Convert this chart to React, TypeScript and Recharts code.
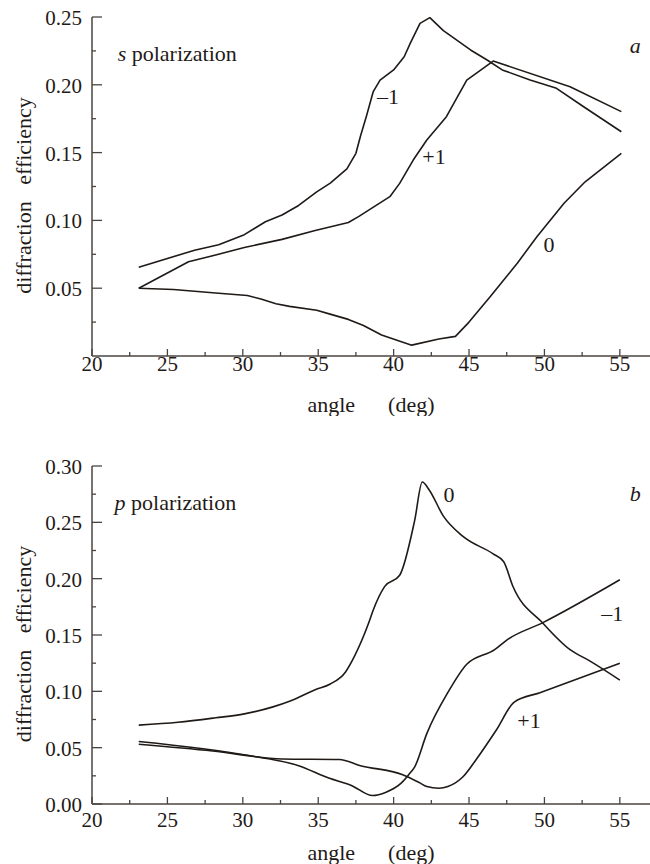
import React from "react";
import { Label, Line, LineChart, ReferenceDot, XAxis, YAxis } from "recharts";

const INK = "#1f1a17";
const AXIS = "#4a4440";
const FONT = "'Liberation Serif', 'DejaVu Serif', serif";

// panel a: s polarization
const sAngleMinus1 = [23.1, 26.8, 28.4, 30.1, 31.5, 32.6, 33.7, 34.9, 35.8, 36.9, 37.5, 37.8, 38.2, 38.65, 39.1, 40.0, 40.7, 41.1, 41.75, 42.4, 43.3, 45.1, 46.2, 47.2, 49.05, 50.8, 52.6, 55.1];
const sEffMinus1 = [0.0655, 0.078, 0.082, 0.0895, 0.099, 0.104, 0.111, 0.121, 0.1275, 0.138, 0.1495, 0.162, 0.177, 0.195, 0.2035, 0.211, 0.2207, 0.2306, 0.2453, 0.2495, 0.24, 0.2257, 0.2183, 0.211, 0.2035, 0.1974, 0.1838, 0.1654];
const sAnglePlus1 = [23.1, 26.4, 28.2, 30.1, 32.6, 34.8, 37.0, 37.7, 38.4, 39.75, 40.4, 41.3, 42.2, 43.5, 44.85, 46.6, 51.7, 55.1];
const sEffPlus1 = [0.05, 0.0695, 0.0745, 0.08, 0.086, 0.0925, 0.0985, 0.103, 0.108, 0.1175, 0.1273, 0.1445, 0.1593, 0.1765, 0.2035, 0.2175, 0.1986, 0.1802];
const sAngleZero = [23.1, 25.4, 28.2, 30.3, 31.2, 32.2, 33.1, 34.9, 35.9, 37.0, 38.0, 39.2, 41.2, 43.0, 44.1, 45.0, 46.4, 48.2, 49.5, 51.3, 52.7, 55.1];
const sEffZero = [0.05, 0.049, 0.0465, 0.0446, 0.042, 0.0385, 0.0366, 0.0337, 0.0305, 0.027, 0.0225, 0.0155, 0.008, 0.0125, 0.0145, 0.025, 0.0437, 0.0684, 0.088, 0.1126, 0.1285, 0.1495];

// panel b: p polarization
const pAngleZero = [23.1, 25.7, 28.2, 30.1, 32.0, 33.1, 34.8, 35.8, 36.8, 37.4, 38.35, 38.65, 39.4, 40.4, 41.4, 41.9, 42.35, 43.3, 44.6, 46.6, 47.3, 47.9, 49.9, 51.7, 53.0, 55.0];
const pEffZero = [0.07, 0.0725, 0.0765, 0.08, 0.0862, 0.0912, 0.1015, 0.1065, 0.117, 0.131, 0.1608, 0.1722, 0.1929, 0.203, 0.252, 0.2858, 0.279, 0.2555, 0.2375, 0.222, 0.215, 0.1935, 0.1605, 0.137, 0.127, 0.11];
const pAngleMinus1 = [23.1, 30.4, 33.7, 35.7, 37.2, 38.6, 39.5, 40.5, 41.0, 41.4, 42.2, 43.6, 44.85, 46.7, 47.5, 49.9, 55.0];
const pEffMinus1 = [0.0555, 0.043, 0.034, 0.023, 0.0165, 0.0075, 0.0105, 0.0185, 0.026, 0.033, 0.0625, 0.099, 0.124, 0.137, 0.1455, 0.161, 0.199];
const pAnglePlus1 = [23.1, 28.0, 32.6, 36.4, 37.8, 40.6, 41.7, 42.2, 43.0, 43.6, 44.6, 45.5, 46.8, 48.0, 49.7, 55.0];
const pEffPlus1 = [0.053, 0.047, 0.04, 0.0395, 0.034, 0.026, 0.019, 0.0155, 0.014, 0.0155, 0.0242, 0.04, 0.0655, 0.0905, 0.0988, 0.125];

const xDomain = [20, 57];
const xTicks = [20, 22.5, 25, 27.5, 30, 32.5, 35, 37.5, 40, 42.5, 45, 47.5, 50, 52.5, 55];
const yTicksA = [0.025, 0.05, 0.075, 0.1, 0.125, 0.15, 0.175, 0.2, 0.225, 0.25];
const yTicksB = [0, 0.025, 0.05, 0.075, 0.1, 0.125, 0.15, 0.175, 0.2, 0.225, 0.25, 0.275, 0.3];

const toPoints = (xs: number[], ys: number[]) => xs.map((x, i) => ({ x, y: ys[i] }));

const isMajorY = (v: number) => Math.abs(v * 20 - Math.round(v * 20)) < 1e-6;

const textStyle = { fontFamily: FONT, fill: INK };

const makeXTick = (labelDy: number) => (props: any) => {
  const { x, y, payload } = props;
  const v = payload.value;
  const major = Number.isInteger(v);
  return (
    <g>
      <line x1={x} x2={x} y1={y} y2={y - (major ? 7 : 4)} stroke={AXIS} strokeWidth={1.3} />
      {major && (
        <text x={x} y={y + labelDy} textAnchor="middle" dominantBaseline="central" fontSize={21} style={textStyle}>
          {v}
        </text>
      )}
    </g>
  );
};

const YTick = (props: any) => {
  const { x, y, payload } = props;
  const v = payload.value;
  const major = isMajorY(v);
  return (
    <g>
      <line x1={x} x2={x + (major ? 10 : 4)} y1={y} y2={y} stroke={AXIS} strokeWidth={1.3} />
      {major && (
        <text x={x - 10} y={y + 1} textAnchor="end" dominantBaseline="central" fontSize={21} style={textStyle}>
          {v.toFixed(2)}
        </text>
      )}
    </g>
  );
};

const XTitle = (props: any) => {
  const vb = props.viewBox || { x: 92, y: 356, width: 558, height: 60 };
  return (
    <text x={vb.x + vb.width / 2} y={vb.y + 48} textAnchor="middle" dominantBaseline="central" fontSize={22} style={{ ...textStyle, whiteSpace: "pre" }}>
      {"angle      (deg)"}
    </text>
  );
};

const YTitle = (props: any) => {
  const vb = props.viewBox || { x: 0, y: 17, width: 92, height: 339 };
  const cx = 23;
  const cy = vb.y + vb.height / 2 + 9;
  return (
    <text x={cx} y={cy} transform={`rotate(-90 ${cx} ${cy})`} textAnchor="middle" dominantBaseline="central" fontSize={22} style={{ ...textStyle, whiteSpace: "pre" }}>
      {"diffraction   efficiency"}
    </text>
  );
};

const note = (text: string, italic = false) => (props: any) => (
  <text x={props.cx} y={props.cy} textAnchor="middle" dominantBaseline="central" fontSize={22} fontStyle={italic ? "italic" : "normal"} style={textStyle}>
    {text}
  </text>
);

const polNote = (letter: string) => (props: any) => (
  <text x={props.cx} y={props.cy} dominantBaseline="central" fontSize={22} style={textStyle}>
    <tspan fontStyle="italic">{letter}</tspan>
    <tspan> polarization</tspan>
  </text>
);

type PanelProps = {
  height: number;
  top: number;
  yMax: number;
  yTicks: number[];
  labelDy: number;
  curve: "linear" | "monotone";
  series: { x: number; y: number }[][];
  notes: { x: number; y: number; shape: (p: any) => React.ReactElement }[];
};

function Panel({ height, top, yMax, yTicks, labelDy, curve, series, notes }: PanelProps) {
  return (
    <LineChart width={650} height={height} margin={{ top, right: 0, bottom: 0, left: 0 }} style={{ fontFamily: FONT }}>
      <XAxis
        type="number"
        dataKey="x"
        domain={xDomain}
        ticks={xTicks}
        interval={0}
        allowDataOverflow
        height={60}
        tickSize={0}
        tickMargin={0}
        tickLine={false}
        axisLine={{ stroke: AXIS, strokeWidth: 1.5 }}
        tick={makeXTick(labelDy)}
      >
        <Label content={<XTitle />} />
      </XAxis>
      <XAxis
        xAxisId="top"
        orientation="top"
        type="number"
        dataKey="x"
        domain={xDomain}
        allowDataOverflow
        height={0}
        tick={false}
        tickLine={false}
        axisLine={{ stroke: AXIS, strokeWidth: 1.5 }}
      />
      <YAxis
        type="number"
        dataKey="y"
        domain={[0, yMax]}
        ticks={yTicks}
        interval={0}
        allowDataOverflow
        width={92}
        tickSize={0}
        tickMargin={0}
        tickLine={false}
        axisLine={{ stroke: AXIS, strokeWidth: 1.5 }}
        tick={<YTick />}
      >
        <Label content={<YTitle />} />
      </YAxis>
      {series.map((data, i) => (
        <Line
          key={i}
          data={data}
          dataKey="y"
          type={curve}
          stroke={INK}
          strokeWidth={1.6}
          strokeLinejoin="round"
          dot={false}
          activeDot={false}
          isAnimationActive={false}
        />
      ))}
      {notes.map((n, i) => (
        <ReferenceDot key={i} x={n.x} y={n.y} r={0} ifOverflow="visible" shape={n.shape} />
      ))}
    </LineChart>
  );
}

export default function App() {
  const seriesA = [
    toPoints(sAngleMinus1, sEffMinus1),
    toPoints(sAnglePlus1, sEffPlus1),
    toPoints(sAngleZero, sEffZero),
  ];
  const seriesB = [
    toPoints(pAngleZero, pEffZero),
    toPoints(pAngleMinus1, pEffMinus1),
    toPoints(pAnglePlus1, pEffPlus1),
  ];
  const notesA = [
    { x: 21.7, y: 0.2235, shape: polNote("s") },
    { x: 56.02, y: 0.2293, shape: note("a", true) },
    { x: 39.62, y: 0.1917, shape: note("–1") },
    { x: 42.68, y: 0.1468, shape: note("+1") },
    { x: 50.31, y: 0.0819, shape: note("0") },
  ];
  const notesB = [
    { x: 21.5, y: 0.268, shape: polNote("p") },
    { x: 56.02, y: 0.276, shape: note("b", true) },
    { x: 43.67, y: 0.2743, shape: note("0") },
    { x: 54.5, y: 0.1695, shape: note("–1") },
    { x: 48.98, y: 0.0737, shape: note("+1") },
  ];
  return (
    <div style={{ position: "absolute", left: 0, top: 0, width: 650, height: 864, background: "#fff", fontFamily: FONT }}>
      <Panel height={416} top={17} yMax={0.25} yTicks={yTicksA} labelDy={8} curve="linear" series={seriesA} notes={notesA} />
      <Panel height={448} top={50} yMax={0.3} yTicks={yTicksB} labelDy={16} curve="monotone" series={seriesB} notes={notesB} />
    </div>
  );
}
